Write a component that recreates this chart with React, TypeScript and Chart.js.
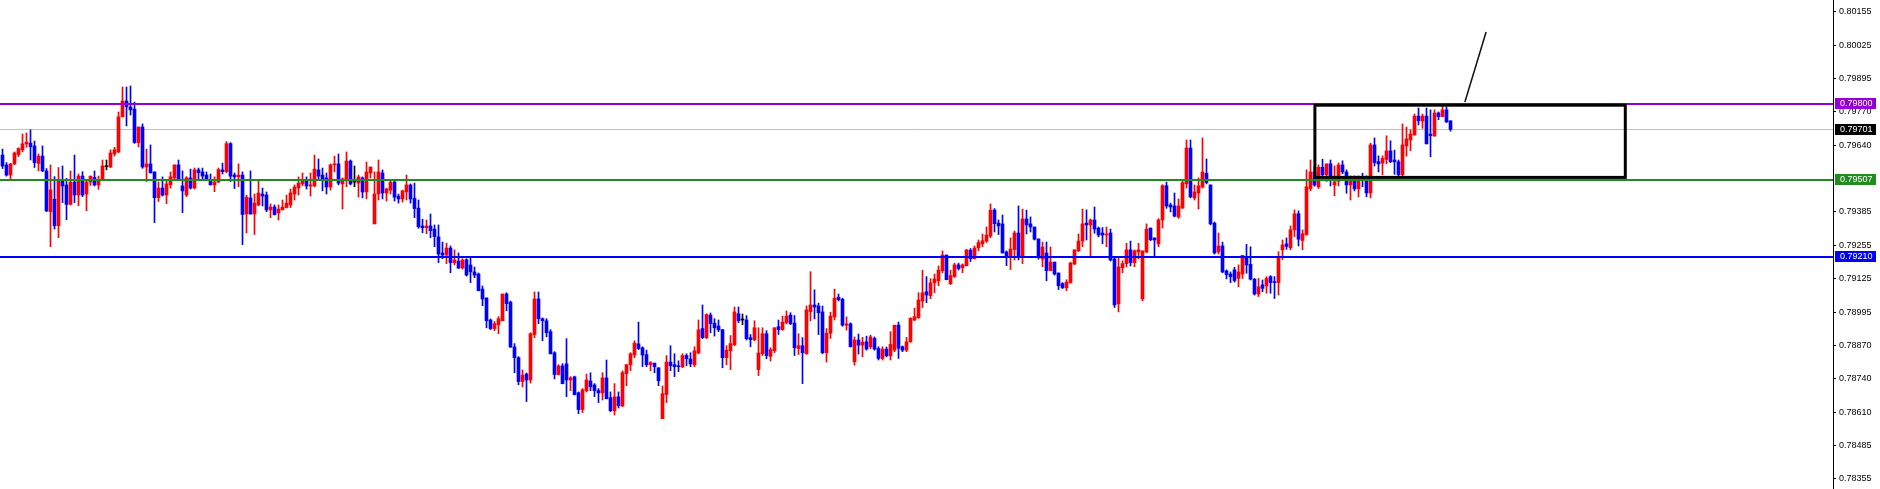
import { useEffect, useRef } from 'react';
import { Chart, registerables } from 'chart.js';

Chart.register(...registerables);

// Prices in points (1 point = 0.00001)
const opens = [
  79602,79564,79525,79568,79604,79622,79645,79648,79637,79570,79598,79541,79384,79432,79330,79506,79487,79412,79498,79448,
  79521,79452,79498,79516,79487,79506,79557,79556,79606,79614,79749,79810,79787,79779,79650,79710,79556,79568,79537,79438,
  79475,79448,79488,79514,79564,79483,79448,79514,79475,79545,79537,79525,79502,79487,79498,79545,79538,79646,79525,79518,
  79525,79375,79437,79375,79410,79452,79448,79391,79402,79379,79391,79400,79410,79452,79475,79491,79502,79483,79483,79545,
  79525,79514,79479,79564,79568,79491,79510,79579,79498,79494,79514,79460,79533,79337,79452,79533,79456,79467,79498,79444,
  79433,79460,79487,79435,79398,79329,79322,79329,79317,79287,79225,79217,79244,79188,79194,79167,79199,79179,79152,79144,
  79086,79052,78967,78934,78949,78964,79067,79036,78863,78822,78730,78759,78736,78911,79048,78972,78964,78922,78841,78757,
  78790,78798,78736,78748,78687,78622,78695,78732,78717,78695,78686,78744,78668,78618,78671,78636,78760,78795,78832,78875,
  78860,78834,78795,78801,78783,78587,78680,78805,78795,78791,78787,78830,78817,78795,78840,78934,78899,78986,78955,78944,
  78930,78822,78849,78872,78991,78967,78967,78899,78891,78776,78837,78914,78827,78849,78941,78930,78957,78986,78955,78857,
  78868,78837,78999,79025,79021,78998,78841,78916,78979,79055,79047,78947,78952,78806,78890,78870,78883,78864,78896,78857,
  78819,78855,78829,78851,78947,78864,78851,78883,78967,78976,79040,79076,79061,79110,79118,79157,79217,79107,79134,79179,
  79168,79176,79236,79203,79245,79260,79271,79290,79390,79340,79337,79229,79208,79238,79302,79211,79356,79337,79325,79279,
  79202,79225,79157,79190,79148,79107,79091,79111,79183,79234,79271,79340,79333,79352,79321,79302,79294,79302,79202,79029,
  79168,79184,79237,79188,79229,79048,79229,79321,79283,79260,79352,79484,79410,79406,79364,79398,79491,79629,79437,79456,
  79479,79532,79487,79340,79229,79252,79156,79144,79160,79127,79144,79211,79181,79124,79067,79102,79098,79134,79113,79111,
  79237,79260,79245,79314,79376,79273,79296,79473,79537,79480,79555,79526,79568,79487,79501,79564,79537,79487,79509,79472,
  79519,79509,79456,79641,79577,79571,79585,79618,79583,79576,79526,79637,79660,79679,79752,79733,79752,79683,79675,79764,
  79750,79776,79734,
];

const highs = [
  79625,79573,79570,79614,79630,79683,79687,79699,79656,79606,79637,79550,79564,79519,79554,79560,79512,79541,79602,79529,
  79538,79502,79521,79541,79521,79583,79583,79622,79632,79768,79864,79864,79868,79806,79710,79722,79625,79641,79537,79498,
  79518,79506,79537,79564,79583,79541,79519,79548,79552,79552,79552,79537,79529,79518,79552,79571,79654,79650,79533,79568,
  79537,79448,79541,79452,79502,79475,79460,79414,79410,79410,79429,79448,79471,79487,79518,79533,79518,79533,79602,79587,
  79552,79533,79568,79598,79606,79514,79614,79583,79560,79525,79518,79575,79556,79537,79583,79545,79475,79502,79502,79452,
  79467,79525,79491,79494,79429,79355,79352,79375,79333,79333,79267,79263,79252,79237,79225,79203,79203,79210,79171,79148,
  79098,79052,78971,78961,78980,79067,79072,79040,78876,78826,78775,78763,78918,79075,79075,78975,78972,78930,78845,78795,
  78799,78895,78749,78751,78690,78703,78759,78764,78722,78703,78764,78813,78690,78722,78690,78771,78795,78841,78887,78959,
  78864,78851,78807,78801,78783,78713,78830,78868,78837,78810,78837,78837,78841,78864,78967,79025,78991,78994,78972,78967,
  78930,78868,78907,79017,79017,78990,78984,78911,78964,78937,78937,78926,78860,78937,78967,78982,79002,78995,78984,78914,
  78899,79021,79153,79083,79032,79021,78934,78997,79086,79067,79051,78979,78956,78902,78913,78900,78905,78909,78902,78864,
  78864,78863,78922,78947,78959,78867,78900,78976,79013,79072,79159,79134,79126,79144,79175,79233,79217,79159,79186,79186,
  79183,79239,79242,79252,79275,79298,79325,79414,79396,79352,79371,79233,79283,79310,79406,79394,79390,79364,79325,79279,
  79267,79267,79248,79190,79148,79111,79122,79190,79237,79298,79394,79391,79356,79402,79325,79323,79325,79317,79206,79206,
  79195,79262,79271,79237,79262,79233,79337,79321,79283,79357,79488,79498,79417,79456,79433,79502,79660,79660,79487,79514,
  79668,79587,79487,79344,79302,79267,79160,79152,79170,79179,79216,79258,79249,79127,79127,79121,79134,79138,79134,79230,
  79275,79283,79329,79391,79387,79314,79545,79583,79560,79564,79586,79568,79583,79560,79572,79580,79545,79522,79522,79522,
  79532,79522,79648,79668,79599,79599,79676,79657,79621,79583,79722,79710,79699,79760,79783,79760,79783,79776,79776,79768,
  79795,79788,79734,
];

const lows = [
  79550,79521,79510,79565,79596,79614,79632,79583,79554,79541,79538,79384,79249,79317,79284,79419,79353,79410,79419,79407,
  79442,79388,79485,79483,79470,79503,79545,79554,79598,79611,79749,79714,79756,79647,79633,79551,79500,79532,79342,79423,
  79444,79415,79475,79511,79506,79380,79442,79471,79471,79510,79509,79506,79487,79461,79496,79529,79534,79500,79473,79480,
  79257,79302,79375,79296,79407,79406,79384,79361,79371,79352,79391,79398,79400,79429,79448,79484,79471,79444,79480,79511,
  79464,79452,79467,79537,79487,79394,79480,79487,79480,79440,79437,79433,79514,79337,79429,79433,79425,79452,79425,79417,
  79421,79429,79417,79361,79320,79303,79299,79284,79249,79188,79203,79184,79149,79179,79165,79163,79136,79111,79130,79079,
  79022,78937,78930,78926,78914,78964,79003,78861,78764,78718,78709,78653,78724,78899,78953,78887,78902,78836,78740,78755,
  78721,78672,78695,78678,78606,78610,78690,78695,78672,78649,78659,78663,78614,78601,78628,78633,78714,78772,78822,78853,
  78787,78787,78772,78764,78714,78587,78649,78772,78749,78768,78783,78791,78787,78787,78837,78895,78895,78918,78905,78922,
  78783,78795,78776,78868,78957,78949,78890,78864,78887,78753,78830,78818,78809,78841,78911,78927,78952,78949,78830,78834,
  78722,78835,78964,78971,78911,78837,78805,78896,78967,79040,78943,78928,78863,78793,78836,78825,78851,78857,78851,78813,
  78813,78825,78813,78845,78819,78845,78845,78881,78964,78973,79015,79034,79049,79072,79099,79149,79122,79103,79131,79159,
  79149,79175,79192,79202,79234,79249,79265,79284,79306,79296,79225,79176,79161,79198,79198,79184,79298,79306,79275,79201,
  79172,79118,79157,79140,79084,79088,79080,79108,79180,79230,79249,79275,79211,79301,79287,79260,79249,79194,79015,78998,
  79149,79171,79175,79172,79203,79040,79226,79272,79211,79249,79321,79397,79383,79364,79358,79396,79475,79437,79429,79394,
  79475,79491,79333,79221,79221,79149,79125,79111,79113,79095,79127,79147,79121,79063,79057,79076,79070,79070,79050,79063,
  79200,79239,79237,79288,79252,79237,79293,79465,79482,79473,79517,79500,79483,79445,79483,79530,79455,79429,79464,79441,
  79480,79441,79437,79560,79537,79526,79568,79573,79528,79522,79522,79598,79618,79679,79718,79705,79645,79595,79675,79738,
  79750,79727,79694,
];

const closes = [
  79560,79525,79568,79610,79627,79645,79652,79634,79573,79598,79541,79387,79468,79330,79506,79483,79412,79498,79448,79521,
  79448,79498,79521,79487,79506,79560,79557,79610,79622,79749,79810,79788,79776,79650,79710,79556,79568,79534,79438,79475,
  79448,79491,79518,79564,79510,79464,79514,79475,79545,79534,79521,79511,79487,79498,79546,79538,79646,79521,79518,79525,
  79373,79440,79375,79417,79456,79444,79391,79402,79373,79394,79402,79417,79456,79479,79494,79502,79483,79487,79548,79521,
  79510,79479,79564,79568,79494,79510,79579,79491,79498,79518,79460,79537,79556,79452,79537,79456,79471,79498,79440,79433,
  79464,79487,79433,79396,79326,79322,79329,79311,79288,79221,79217,79244,79188,79198,79167,79198,79140,79152,79140,79080,
  79048,78964,78934,78953,78972,79067,79030,78863,78822,78730,78755,78736,78914,79048,78972,78964,78918,78837,78757,78790,
  78722,78736,78744,78680,78622,78698,78736,78710,78695,78686,78744,78664,78618,78671,78637,78764,78795,78837,78878,78857,
  78832,78795,78803,78787,78733,78683,78805,78791,78787,78787,78830,78818,78798,78848,78929,78899,78988,78953,78937,78929,
  78822,78851,78876,78998,78964,78967,78895,78891,78937,78840,78914,78830,78853,78937,78930,78959,78982,78953,78860,78868,
  78841,79006,79025,79017,78995,78841,78916,78982,79051,79045,78947,78952,78864,78890,78870,78882,78855,78902,78855,78819,
  78855,78829,78873,78947,78858,78851,78883,78973,78980,79044,79072,79063,79110,79125,79159,79217,79122,79138,79179,79165,
  79179,79236,79203,79244,79265,79272,79294,79390,79338,79329,79225,79213,79240,79302,79211,79356,79333,79325,79278,79207,
  79248,79157,79190,79144,79099,79091,79113,79186,79237,79271,79337,79333,79352,79317,79294,79294,79298,79198,79025,79171,
  79184,79237,79188,79233,79237,79233,79317,79276,79275,79352,79484,79406,79402,79367,79406,79496,79629,79441,79460,79483,
  79537,79496,79337,79225,79252,79152,79142,79134,79119,79152,79216,79179,79124,79067,79095,79089,79127,79111,79111,79211,
  79256,79250,79314,79376,79278,79299,79480,79537,79487,79555,79526,79568,79522,79499,79564,79537,79487,79509,79472,79506,
  79506,79456,79641,79573,79568,79589,79618,79576,79576,79526,79641,79664,79683,79752,79734,79752,79645,79677,79764,79750,
  79776,79730,79701,
];

const POINT = 0.00001;

// Right price axis labels
const yTickValues = [0.80155, 0.80025, 0.79895, 0.7977, 0.7964, 0.79385, 0.79255, 0.79125, 0.78995, 0.7887, 0.7874, 0.7861, 0.78485, 0.78355];

// Horizontal levels and their tag labels
const levelValues = [0.798, 0.79701, 0.79507, 0.7921];
const levelLabels = ['0.79800', '0.79701', '0.79507', '0.79210'];

// Rectangle annotation (bar index range, price range)
const boxIndexRange = [328.1, 405.7];
const boxPriceRange = [0.79794, 0.79516];

// Arrow line (bar index, price)
const arrowFrom = [365.6, 0.79806];
const arrowTo = [370.9, 0.80076];

// Visible window
const yRange = [0.783163, 0.80199];
const xRange = [-0.625, 457.625];

// Styles
const UP_COLOR = '#FF0000';
const DOWN_COLOR = '#0000FF';
const DOJI_COLOR = '#000000';
const LEVEL_LINE_COLORS = ['#9400D3', '#C0C0C0', '#228B22', '#0000FF'];
const LEVEL_TAG_COLORS = ['#9400D3', '#000000', '#228B22', '#0000FF'];
const LEVEL_LINE_WIDTHS = [2, 1, 2, 2];
const FONT = '9px "Liberation Sans", Arial, sans-serif';

const overlayPlugin = {
  id: 'overlay',
  beforeDatasetsDraw(chart: any) {
    const { ctx, chartArea, scales } = chart;
    const y = scales.y;
    // current price line behind candles
    ctx.save();
    const py = Math.round(y.getPixelForValue(levelValues[1])) + 0.5;
    ctx.strokeStyle = LEVEL_LINE_COLORS[1];
    ctx.lineWidth = LEVEL_LINE_WIDTHS[1];
    ctx.beginPath();
    ctx.moveTo(chartArea.left, py);
    ctx.lineTo(chartArea.right, py);
    ctx.stroke();
    ctx.restore();
  },
  afterDatasetsDraw(chart: any) {
    const { ctx, chartArea, scales } = chart;
    const x = scales.x;
    const y = scales.y;
    ctx.save();
    levelValues.forEach((v, i) => {
      if (i === 1) return;
      const w = LEVEL_LINE_WIDTHS[i];
      let py = Math.round(y.getPixelForValue(v));
      if (w % 2 === 1) py += 0.5;
      ctx.strokeStyle = LEVEL_LINE_COLORS[i];
      ctx.lineWidth = w;
      ctx.beginPath();
      ctx.moveTo(chartArea.left, py);
      ctx.lineTo(chartArea.right, py);
      ctx.stroke();
    });
    // rectangle
    const x0 = x.getPixelForValue(boxIndexRange[0]);
    const x1 = x.getPixelForValue(boxIndexRange[1]);
    const y0 = y.getPixelForValue(boxPriceRange[0]);
    const y1 = y.getPixelForValue(boxPriceRange[1]);
    ctx.strokeStyle = '#000000';
    ctx.lineWidth = 3;
    ctx.strokeRect(x0, y0, x1 - x0, y1 - y0);
    // arrow line
    ctx.lineWidth = 1.5;
    ctx.strokeStyle = '#111111';
    ctx.beginPath();
    ctx.moveTo(x.getPixelForValue(arrowFrom[0]), y.getPixelForValue(arrowFrom[1]));
    ctx.lineTo(x.getPixelForValue(arrowTo[0]), y.getPixelForValue(arrowTo[1]));
    ctx.stroke();
    ctx.restore();
  },
  afterDraw(chart: any) {
    const { ctx, chartArea, scales } = chart;
    const y = scales.y;
    ctx.save();
    ctx.font = FONT;
    ctx.textBaseline = 'middle';
    ctx.textAlign = 'left';
    levelValues.forEach((v, i) => {
      const py = y.getPixelForValue(v);
      const top = Math.round(py - 5.5);
      ctx.fillStyle = LEVEL_TAG_COLORS[i];
      ctx.fillRect(chartArea.right + 2, top, 41, 11);
      ctx.fillStyle = '#FFFFFF';
      ctx.fillText(levelLabels[i], chartArea.right + 7, top + 6);
    });
    ctx.restore();
  },
};

export default function App() {
  const canvasRef = useRef<HTMLCanvasElement | null>(null);

  useEffect(() => {
    const canvas = canvasRef.current;
    if (!canvas) return;
    const n = Math.min(opens.length, highs.length, lows.length, closes.length);
    const idx = Array.from({ length: n }, (_, i) => i);
    const colors = idx.map((i) =>
      closes[i] > opens[i] ? UP_COLOR : closes[i] < opens[i] ? DOWN_COLOR : DOJI_COLOR
    );
    const bodyData = idx.map((i) => ({ x: i, y: [opens[i] * POINT, closes[i] * POINT] }));
    const wickData = idx.map((i) => ({ x: i, y: [lows[i] * POINT, highs[i] * POINT] }));

    const chart = new Chart(canvas, {
      type: 'bar',
      data: {
        datasets: [
          {
            label: 'wick',
            data: wickData as any,
            backgroundColor: colors,
            barThickness: 1,
            minBarLength: 1,
            grouped: false,
            borderWidth: 0,
            order: 2,
          } as any,
          {
            label: 'body',
            data: bodyData as any,
            backgroundColor: colors,
            barThickness: 3,
            minBarLength: 1,
            grouped: false,
            borderWidth: 0,
            order: 1,
          } as any,
        ],
      },
      options: {
        responsive: false,
        animation: false,
        devicePixelRatio: 1,
        events: [],
        layout: { padding: 0 },
        plugins: { legend: { display: false }, tooltip: { enabled: false } },
        scales: {
          x: {
            type: 'linear',
            min: xRange[0],
            max: xRange[1],
            offset: false,
            display: false,
          },
          y: {
            type: 'linear',
            position: 'right',
            min: yRange[0],
            max: yRange[1],
            beginAtZero: false,
            afterBuildTicks: (axis: any) => {
              axis.ticks = yTickValues.map((v) => ({ value: v }));
            },
            afterFit: (axis: any) => {
              axis.width = 47;
              axis.paddingTop = 0;
              axis.paddingBottom = 0;
            },
            ticks: {
              autoSkip: false,
              padding: 3,
              color: '#000000',
              font: { family: '"Liberation Sans", Arial, sans-serif', size: 9 },
              callback: (v: any) => Number(v).toFixed(5),
            },
            grid: { drawOnChartArea: false, tickLength: 3, color: '#000000' },
            border: { display: true, color: '#000000', width: 1 },
          },
        },
      } as any,
      plugins: [overlayPlugin],
    });
    return () => chart.destroy();
  }, []);

  return (
    <div style={{ position: 'fixed', left: 0, top: 0, width: 1880, height: 489, background: '#FFFFFF' }}>
      <canvas ref={canvasRef} width={1880} height={489} style={{ display: 'block' }} />
    </div>
  );
}
